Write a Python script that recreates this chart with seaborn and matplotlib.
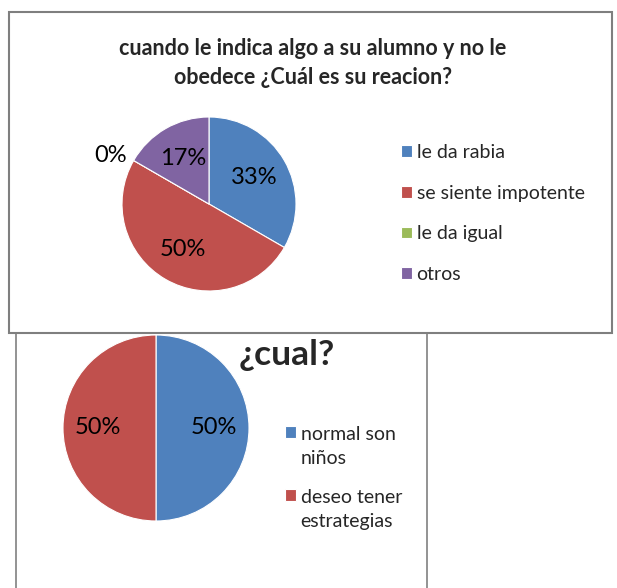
import matplotlib.pyplot as plt
import seaborn as sns
from matplotlib.patches import Rectangle

# datos de la encuesta
reaccion_labels = ['le da rabia', 'se siente impotente', 'le da igual', 'otros']
reaccion_counts = [2, 3, 0, 1]
cual_labels = ['normal son\nniños', 'deseo tener\nestrategias']
cual_counts = [1, 1]

colors = sns.color_palette(['#4F81BD', '#C0504D', '#9BBB59', '#8064A2'])

sns.set_style('white')
plt.rcParams['font.family'] = ['Lato', 'DejaVu Sans']

W, H = 617, 588
fig = plt.figure(figsize=(W / 100, H / 100), dpi=100)
fig.patch.set_facecolor('white')


def px_axes(x0, y0, x1, y1):
    ax = fig.add_axes([x0 / W, 1 - y1 / H, (x1 - x0) / W, (y1 - y0) / H])
    ax.set_zorder(2)
    ax.patch.set_alpha(0)
    return ax


# marcos de los dos graficos
fig.patches.append(Rectangle((16 / W, -0.05), (427 - 16) / W, 1 - 333 / H + 0.05,
                             transform=fig.transFigure, facecolor='white',
                             edgecolor='#8a8a8a', lw=1.3, zorder=0))
fig.patches.append(Rectangle((9 / W, 1 - 333 / H), (612 - 9) / W, (333 - 12) / H,
                             transform=fig.transFigure, facecolor='white',
                             edgecolor='#7f7f7f', lw=1.5, zorder=1))

# grafico superior
ax1 = px_axes(122, 117, 296, 291)
wedges1, _, pct1 = ax1.pie(reaccion_counts, colors=colors, startangle=90, counterclock=False,
                           autopct=lambda p: f'{p:.0f}%', pctdistance=0.6,
                           wedgeprops=dict(edgecolor='white', linewidth=0.8),
                           textprops=dict(fontsize=17, color='black'))
for v, t in zip(reaccion_counts, pct1):
    if v == 0:
        x, y = t.get_position()
        t.set_position((x * 1.3 / 0.6, y * 1.12 / 0.6))
ax1.set_xlim(-1, 1)
ax1.set_ylim(-1, 1)

fig.text(313 / W, 1 - 63 / H, 'cuando le indica algo a su alumno y no le\nobedece ¿Cuál es su reacion?',
         ha='center', va='center', fontsize=15.5, fontweight='bold', linespacing=1.5, zorder=3)

leg1 = fig.legend(wedges1, reaccion_labels, loc='upper left', bbox_to_anchor=(401 / W, 1 - 144 / H),
                  frameon=False, fontsize=14, handlelength=0.55, handleheight=0.55,
                  handletextpad=0.25, labelspacing=1.22, borderpad=0, borderaxespad=0)

# grafico inferior
ax2 = px_axes(63, 335, 249, 521)
wedges2, _, pct2 = ax2.pie(cual_counts, colors=colors[:2], startangle=90, counterclock=False,
                           autopct=lambda p: f'{p:.0f}%', pctdistance=0.62,
                           wedgeprops=dict(edgecolor='white', linewidth=0.8),
                           textprops=dict(fontsize=17, color='black'))
ax2.set_xlim(-1, 1)
ax2.set_ylim(-1, 1)

fig.text(287 / W, 1 - 355 / H, '¿cual?', ha='center', va='center',
         fontsize=25.5, fontweight='bold', zorder=3)

leg2 = fig.legend(wedges2, cual_labels, loc='upper left', bbox_to_anchor=(285 / W, 1 - 426 / H),
                  frameon=False, fontsize=14, handlelength=0.55, handleheight=0.55,
                  handletextpad=0.25, labelspacing=1.15, borderpad=0, borderaxespad=0)
for t in leg2.get_texts():
    t.set_linespacing(1.47)
for col in leg2._legend_handle_box.get_children():
    for row in col.get_children():
        row.align = 'top'

fig.savefig('out.png', dpi=100, facecolor='white')
